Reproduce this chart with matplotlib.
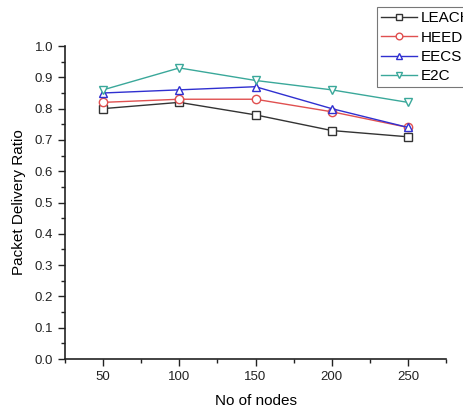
import matplotlib
matplotlib.use("Agg")
import matplotlib.pyplot as plt
from matplotlib.ticker import MultipleLocator

plt.rcParams['font.family'] = ['Liberation Sans', 'DejaVu Sans']

nodes = [50, 100, 150, 200, 250]
leach = [0.80, 0.82, 0.78, 0.73, 0.71]
heed = [0.82, 0.83, 0.83, 0.79, 0.74]
eecs = [0.85, 0.86, 0.87, 0.80, 0.74]
e2c = [0.86, 0.93, 0.89, 0.86, 0.82]

series = [
    ("LEACH", leach, "#333333", "s"),
    ("HEED", heed, "#e05050", "o"),
    ("EECS", eecs, "#3030d0", "^"),
    ("E2C", e2c, "#3aa89a", "v"),
]

fig = plt.figure(figsize=(4.63, 4.11), dpi=100)
ax = fig.add_axes([0.1404, 0.1265, 0.8229, 0.7615])

for name, vals, col, mk in series:
    ax.plot(nodes, vals, color=col, marker=mk, markersize=6, markerfacecolor='white',
            markeredgecolor=col, markeredgewidth=1.0, linewidth=1.0, label=name)

ax.set_xlim(25, 275)
ax.set_ylim(0.0, 1.0)
ax.xaxis.set_major_locator(MultipleLocator(50))
ax.xaxis.set_minor_locator(MultipleLocator(25))
ax.yaxis.set_major_locator(MultipleLocator(0.1))
ax.yaxis.set_minor_locator(MultipleLocator(0.05))
ax.set_yticks([0.0, 0.1, 0.2, 0.3, 0.4, 0.5, 0.6, 0.7, 0.8, 0.9, 1.0])
ax.set_yticklabels(["0.0", "0.1", "0.2", "0.3", "0.4", "0.5", "0.6", "0.7", "0.8", "0.9", "1.0"])
ax.spines['top'].set_visible(False)
ax.spines['right'].set_visible(False)
for s in ('left', 'bottom'):
    ax.spines[s].set_linewidth(1.2)
    ax.spines[s].set_color('#222222')
ax.tick_params(which='major', direction='out', length=5, width=1, labelsize=9.5, colors='#222222')
ax.tick_params(which='minor', direction='out', length=3, width=1, colors='#222222')
ax.set_xlabel("No of nodes", fontsize=11, labelpad=8)
ax.set_ylabel("Packet Delivery Ratio", fontsize=11, labelpad=6)

leg = fig.legend(loc='upper left', bbox_to_anchor=(0.814, 0.982), fontsize=11,
                 frameon=True, fancybox=False, edgecolor='#555555', handlelength=2.4,
                 borderpad=0.25, labelspacing=0.35, handletextpad=0.25, borderaxespad=0,
                 markerscale=0.8)
leg.get_frame().set_linewidth(0.8)

fig.savefig("out.png", dpi=100)
